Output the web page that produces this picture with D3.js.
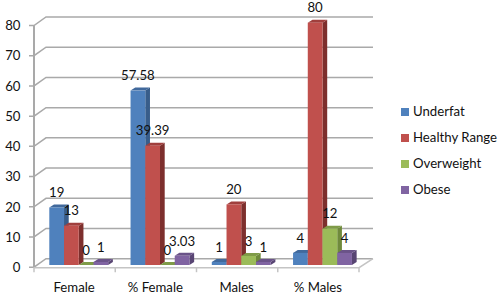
<!DOCTYPE html>
<html>
<head>
<meta charset="utf-8">
<script src="https://cdn.jsdelivr.net/npm/d3@7/dist/d3.min.js"></script>
<style>
  html, body { margin: 0; padding: 0; background: #fff; }
  text { font-family: Lato, "Open Sans", sans-serif; font-size: 13.2px; fill: #111; }
</style>
</head>
<body>
<div id="chart"></div>
<script>
var categories = ["Female", "% Female", "Males", "% Males"];
var seriesNames = ["Underfat", "Healthy Range", "Overweight", "Obese"];
var underfat = [19, 57.58, 1, 4];
var healthyRange = [13, 39.39, 20, 80];
var overweight = [0, 0, 3, 12];
var obese = [1, 3.03, 1, 4];
var yTicks = [0, 10, 20, 30, 40, 50, 60, 70, 80];

var seriesValues = [underfat, healthyRange, overweight, obese];
var front = ["#4f81bd", "#c0504d", "#9bbb59", "#8064a2"];
var side = ["#385d8a", "#7d2f2d", "#6f8a3c", "#584573"];
var topc = ["#41699c", "#a03f3d", "#7f9b48", "#6a5388"];

var width = 500, height = 301;
// depth of the fake 3d box and of the bars
var wallDx = 12, wallDy = 8.5, barDx = 4.7, barDy = 3;
var barBase = 265;

var svg = d3.select("#chart").append("svg")
  .attr("width", width)
  .attr("height", height)
  .style("display", "block");

var y = d3.scaleLinear().domain([0, 80]).range([267.2, 25.5]);
var yBar = d3.scaleLinear().domain([0, 80]).range([barBase, 22.7]);
var x0 = d3.scaleBand().domain(categories).range([34, 359]);
var x1 = d3.scaleBand().domain(seriesNames).range([15.3, 74.2]);

// walls
var grid = svg.append("g").attr("fill", "none").attr("stroke", "#a9a9a9").attr("stroke-width", 1.5);
yTicks.forEach(function(t) {
  grid.append("path").attr("d", d3.line()([
    [x0.range()[0] - 5, y(t)],
    [x0.range()[0], y(t)],
    [x0.range()[0] + wallDx, y(t) - wallDy],
    [x0.range()[1] + wallDx + 2, y(t) - wallDy]
  ]));
});
grid.append("path").attr("d", d3.line()([[34, y(0)], [34, y(80)]])).attr("stroke-width", 2);
// floor
grid.append("path")
  .attr("stroke", "#c4c4c4")
  .attr("d", d3.line()([[34, y(0) + 0.5], [359, y(0) + 0.5], [359 + wallDx + 2, y(0) - wallDy]]));
d3.range(5).forEach(function(i) {
  var px = 34 + i * x0.bandwidth();
  grid.append("path").attr("stroke", "#c4c4c4").attr("d", d3.line()([[px, y(0)], [px, y(0) + 5]]));
});

// y tick labels
svg.append("g").selectAll("text").data(yTicks).enter().append("text")
  .attr("x", 20.5)
  .attr("y", function(d) { return y(d); })
  .attr("dy", "0.36em")
  .attr("text-anchor", "end")
  .text(function(d) { return d; });

// category labels
svg.append("g").selectAll("text").data(categories).enter().append("text")
  .attr("x", function(d) { return x0(d) + x0.bandwidth() / 2 - 0.5; })
  .attr("y", 287)
  .attr("dy", "0.36em")
  .attr("text-anchor", "middle")
  .text(function(d) { return d; });

// bars
var bars = svg.append("g");
var labels = svg.append("g");
categories.forEach(function(c, ci) {
  seriesNames.forEach(function(s, si) {
    var v = seriesValues[si][ci];
    var xl = x0(c) + x1(s), xr = xl + x1.bandwidth();
    var yt = yBar(v);
    var poly = d3.line();
    bars.append("path").attr("fill", side[si]).attr("d", poly([
      [xr, yt], [xr + barDx, yt - barDy], [xr + barDx, barBase - barDy], [xr, barBase]
    ]) + "Z");
    bars.append("path").attr("fill", topc[si]).attr("d", poly([
      [xl, yt], [xl + barDx, yt - barDy], [xr + barDx, yt - barDy], [xr, yt]
    ]) + "Z");
    bars.append("rect").attr("fill", front[si])
      .attr("x", xl).attr("y", yt)
      .attr("width", x1.bandwidth())
      .attr("height", barBase - yt);
    labels.append("text")
      .attr("x", (xl + xr) / 2)
      .attr("y", yt - 15)
      .attr("dy", "0.36em")
      .attr("text-anchor", "middle")
      .text(v);
  });
});

// legend
var legY = d3.scalePoint().domain(seriesNames).range([112, 190]);
var leg = svg.append("g").selectAll("g").data(seriesNames).enter().append("g");
leg.append("rect")
  .attr("x", 401).attr("y", function(d) { return legY(d) - 4; })
  .attr("width", 8).attr("height", 8)
  .attr("fill", function(d, i) { return front[i]; });
leg.append("text")
  .attr("x", 413).attr("y", function(d) { return legY(d) - 0.5; })
  .attr("dy", "0.36em")
  .text(function(d) { return d; });
</script>
</body>
</html>
